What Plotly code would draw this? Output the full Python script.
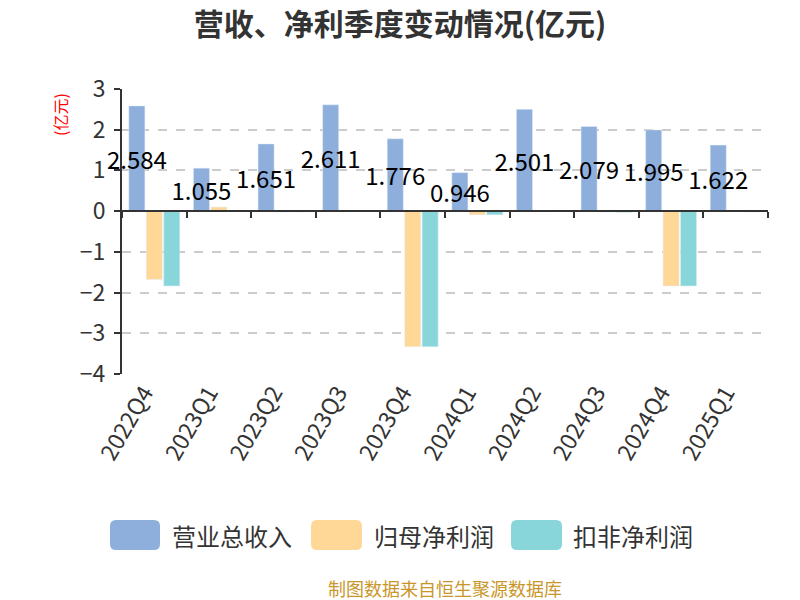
import plotly.graph_objects as go

categories = ["2022Q4", "2023Q1", "2023Q2", "2023Q3", "2023Q4",
              "2024Q1", "2024Q2", "2024Q3", "2024Q4", "2025Q1"]
revenue = [2.584, 1.055, 1.651, 2.611, 1.776, 0.946, 2.501, 2.079, 1.995, 1.622]
net_profit = [-1.68, 0.10, -0.02, 0.01, -3.33, -0.09, 0.02, -0.02, -1.84, 0.01]
deducted_profit = [-1.84, 0.01, -0.02, 0.01, -3.33, -0.09, 0.01, -0.03, -1.84, -0.02]
series_names = ["营业总收入", "归母净利润", "扣非净利润"]
colors = ["#8eaedc", "#ffd898", "#88d6da"]
y_min, y_max = -4, 3

W, H = 800, 600
L, R, T, B = 122, 32, 89, 226
PW, PH = W - L - R, H - T - B
font_family = "Noto Sans CJK SC, Noto Sans, sans-serif"


def px_x(px):
    return (px - L) / PW


def px_y(py):
    return (H - B - py) / PH


fig = go.Figure()
fig.add_trace(go.Bar(
    x=categories, y=revenue, name=series_names[0], marker_color=colors[0],
    text=[f"{v:.3f}" for v in revenue], textposition="inside",
    insidetextanchor="middle", textangle=0, constraintext="none",
    cliponaxis=False,
    textfont=dict(size=24, color="#000000", family=font_family),
    showlegend=False,
))
fig.add_trace(go.Bar(x=categories, y=net_profit, name=series_names[1],
                     marker_color=colors[1], showlegend=False))
fig.add_trace(go.Bar(x=categories, y=deducted_profit, name=series_names[2],
                     marker_color=colors[2], showlegend=False))
# helper trace for the zero-position category axis
fig.add_trace(go.Scatter(x=categories, y=[0] * len(categories), xaxis="x2",
                         mode="lines", line=dict(width=0), opacity=0,
                         hoverinfo="skip", showlegend=False))

shapes = []
annotations = []

# custom legend
legend_items = [(110, 160, 170), (311, 362, 372), (511, 562, 571)]
cy = 535
for (x0p, x1p, tx), name, col in zip(legend_items, series_names, colors):
    y0p, y1p = cy - 15, cy + 15
    r = 6
    path = (
        f"M {px_x(x0p + r)},{px_y(y0p)} L {px_x(x1p - r)},{px_y(y0p)} "
        f"Q {px_x(x1p)},{px_y(y0p)} {px_x(x1p)},{px_y(y0p + r)} "
        f"L {px_x(x1p)},{px_y(y1p - r)} "
        f"Q {px_x(x1p)},{px_y(y1p)} {px_x(x1p - r)},{px_y(y1p)} "
        f"L {px_x(x0p + r)},{px_y(y1p)} "
        f"Q {px_x(x0p)},{px_y(y1p)} {px_x(x0p)},{px_y(y1p - r)} "
        f"L {px_x(x0p)},{px_y(y0p + r)} "
        f"Q {px_x(x0p)},{px_y(y0p)} {px_x(x0p + r)},{px_y(y0p)} Z"
    )
    shapes.append(dict(type="path", xref="paper", yref="paper", path=path,
                       fillcolor=col, line=dict(width=0)))
    annotations.append(dict(xref="paper", yref="paper", x=px_x(tx), y=px_y(cy),
                            xanchor="left", yanchor="middle", text=name,
                            showarrow=False,
                            font=dict(size=24, color="#333333", family=font_family)))

# y-axis unit label
annotations.append(dict(xref="paper", yref="paper", x=px_x(60), y=px_y(115),
                        xanchor="center", yanchor="middle", text="(亿元)",
                        textangle=-90, showarrow=False,
                        font=dict(size=16, color="#ff0000", family=font_family)))
# footer
annotations.append(dict(xref="paper", yref="paper", x=0.5, xanchor="center",
                        y=px_y(588), yanchor="middle",
                        text="制图数据来自恒生聚源数据库", showarrow=False,
                        font=dict(size=18, color="#c9962a", family=font_family)))

zero_pos = (0 - y_min) / (y_max - y_min)
x_range = [-0.5, len(categories) - 0.5]

fig.update_layout(
    width=W, height=H,
    margin=dict(l=L, r=R, t=T, b=B, autoexpand=False),
    paper_bgcolor="white", plot_bgcolor="white",
    font=dict(family=font_family, color="#333333"),
    title=dict(text="<b>营收、净利季度变动情况(亿元)</b>", x=0.5, xanchor="center",
               y=1 - 24 / H, yanchor="middle",
               font=dict(size=30, color="#333333", family=font_family)),
    barmode="group", bargap=0.19, bargroupgap=0.08,
    xaxis=dict(type="category", range=x_range, showline=False, ticks="",
               showgrid=False, tickangle=-60, ticklabelshift=-10,
               ticklabelstandoff=0,
               tickfont=dict(size=23, color="#333333"), zeroline=False),
    xaxis2=dict(type="category", overlaying="x", matches="x", anchor="free",
                position=zero_pos, side="bottom", showline=True,
                linecolor="#333333", linewidth=2, ticks="outside",
                tickson="boundaries", ticklen=6, tickwidth=2,
                tickcolor="#333333", showticklabels=False, showgrid=False,
                zeroline=False),
    yaxis=dict(range=[y_min, y_max], dtick=1, showline=True,
               linecolor="#333333", linewidth=2, ticks="outside", ticklen=6,
               tickwidth=2, tickcolor="#333333", showgrid=True,
               gridcolor="#cccccc", griddash="dash", gridwidth=1.5,
               ticklabelstandoff=4,
               zeroline=False, tickfont=dict(size=23, color="#333333")),
    shapes=shapes,
    annotations=annotations,
)

fig.write_html("out.html", config={"displayModeBar": False},
               post_script="document.body.style.margin='0';document.body.style.overflow='hidden';")
